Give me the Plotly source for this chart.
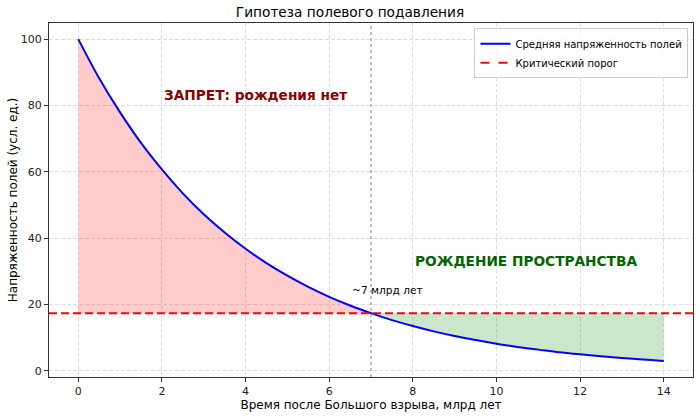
import plotly.graph_objects as go

# Time after Big Bang, billions of years
time_gyr = [0, 0.5, 1, 1.5, 2, 2.5, 3, 3.5, 4, 4.5, 5, 5.5, 6, 6.5, 7,
            7.5, 8, 8.5, 9, 9.5, 10, 10.5, 11, 11.5, 12, 12.5, 13, 13.5, 14]
field_strength = [100, 88.2, 77.9, 68.7, 60.7, 53.5, 47.2, 41.7, 36.8, 32.5,
                  28.7, 25.3, 22.3, 19.7, 17.4, 15.3, 13.5, 11.9, 10.5, 9.3,
                  8.2, 7.2, 6.4, 5.6, 5.0, 4.4, 3.9, 3.4, 3.0]
threshold = 17.4
crossing_time = 7

FONT = "DejaVu Sans"

early = [(t, v) for t, v in zip(time_gyr, field_strength) if t <= crossing_time]
late = [(t, v) for t, v in zip(time_gyr, field_strength) if t >= crossing_time]

fig = go.Figure()

# red zone: above threshold before crossing
fig.add_trace(go.Scatter(x=[t for t, _ in early], y=[threshold] * len(early),
                         mode="lines", line=dict(width=0), showlegend=False,
                         hoverinfo="skip"))
fig.add_trace(go.Scatter(x=[t for t, _ in early], y=[v for _, v in early],
                         mode="lines", line=dict(width=0, shape="spline"),
                         fill="tonexty", fillcolor="rgba(255,0,0,0.2)",
                         showlegend=False, hoverinfo="skip"))
# green zone: below threshold after crossing
fig.add_trace(go.Scatter(x=[t for t, _ in late], y=[threshold] * len(late),
                         mode="lines", line=dict(width=0), showlegend=False,
                         hoverinfo="skip"))
fig.add_trace(go.Scatter(x=[t for t, _ in late], y=[v for _, v in late],
                         mode="lines", line=dict(width=0, shape="spline"),
                         fill="tonexty", fillcolor="rgba(0,128,0,0.2)",
                         showlegend=False, hoverinfo="skip"))

fig.add_trace(go.Scatter(x=time_gyr, y=field_strength, mode="lines",
                         line=dict(color="blue", width=2, shape="spline"),
                         name="Средняя напряженность полей"))
# legend entry only, the line itself is a shape across the axes
fig.add_trace(go.Scatter(x=[None], y=[None], mode="lines",
                         line=dict(color="red", width=2, dash="dash"),
                         name="Критический порог"))

fig.add_shape(type="line", xref="paper", x0=0, x1=1, y0=threshold, y1=threshold,
              line=dict(color="red", width=2, dash="8px,4px"))
fig.add_shape(type="line", yref="paper", x0=crossing_time, x1=crossing_time,
              y0=0, y1=1, line=dict(color="gray", width=1, dash="dot"))

fig.add_annotation(x=6.5, y=22, text="~7 млрд лет", showarrow=False,
                   xanchor="left", yanchor="bottom",
                   font=dict(family=FONT, size=10.6, color="black"))
fig.add_annotation(x=2, y=80, text="<b>ЗАПРЕТ: рождения нет</b>", showarrow=False,
                   xanchor="left", yanchor="bottom",
                   font=dict(family=FONT, size=13.7, color="darkred"))
fig.add_annotation(x=8, y=30, text="<b>РОЖДЕНИЕ ПРОСТРАНСТВА</b>", showarrow=False,
                   xanchor="left", yanchor="bottom",
                   font=dict(family=FONT, size=13.7, color="darkgreen"))

axis_style = dict(showline=True, linecolor="#333", linewidth=1, mirror=True,
                  ticks="outside", ticklen=4, tickcolor="#333",
                  showgrid=True, gridcolor="rgba(200,200,200,0.6)",
                  griddash="4px,2px", gridwidth=1, zeroline=False,
                  automargin=False,
                  tickfont=dict(family=FONT, size=11, color="#222"))

fig.update_xaxes(range=[-0.7, 14.7], tickvals=list(range(0, 15, 2)),
                 title=dict(text="Время после Большого взрыва, млрд лет",
                            font=dict(family=FONT, size=12, color="black"),
                            standoff=3),
                 **axis_style)
fig.update_yaxes(range=[-1.85, 104.85], tickvals=list(range(0, 101, 20)),
                 title=dict(text="Напряженность полей (усл. ед.)",
                            font=dict(family=FONT, size=12, color="black"),
                            standoff=0),
                 **axis_style)

fig.update_layout(
    width=700, height=418,
    plot_bgcolor="white", paper_bgcolor="white",
    margin=dict(l=49, r=7, t=23, b=41),
    title=dict(text="Гипотеза полевого подавления", x=0.5, xanchor="center",
               y=0.982, yanchor="top",
               font=dict(family=FONT, size=13.7, color="black")),
    legend=dict(x=0.993, y=0.985, xanchor="right", yanchor="top",
                traceorder="normal",
                bgcolor="rgba(255,255,255,0.8)", bordercolor="#ccc", borderwidth=1,
                font=dict(family=FONT, size=10, color="black")),
    showlegend=True,
)

# drop the page's default body margin so the figure fills the window
fig.write_html("out.html", config={"displayModeBar": False},
               post_script="document.body.style.margin='0';")
